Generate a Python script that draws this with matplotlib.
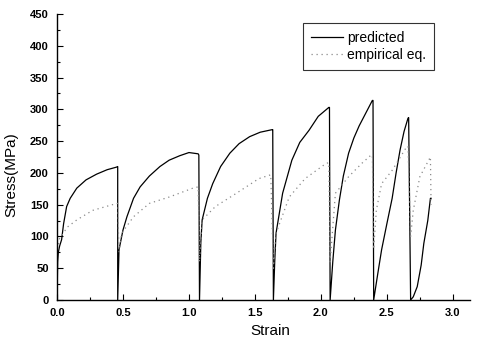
import matplotlib
matplotlib.use("Agg")
import matplotlib.pyplot as plt
from matplotlib.ticker import MultipleLocator

# predicted (solid) - loading segments with unloading drops
pred_strain = [0.0, 0.005, 0.01, 0.02, 0.035, 0.05, 0.073, 0.1, 0.15, 0.22, 0.3, 0.38, 0.45, 0.46,
               0.46, 0.47, 0.5, 0.53, 0.58, 0.63, 0.7, 0.78, 0.85, 0.93, 1.0, 1.07, 1.075,
               1.08, 1.09, 1.10, 1.14, 1.18, 1.24, 1.31, 1.38, 1.46, 1.54, 1.63, 1.635,
               1.64, 1.65, 1.66, 1.71, 1.78, 1.84, 1.91, 1.98, 2.06, 2.065,
               2.07, 2.09, 2.11, 2.14, 2.17, 2.21, 2.25, 2.29, 2.35, 2.39, 2.395,
               2.40, 2.43, 2.46, 2.50, 2.54, 2.57, 2.60, 2.63, 2.66, 2.665,
               2.68, 2.70, 2.73, 2.76, 2.78, 2.81, 2.83, 2.835]
pred_stress = [0, 60, 75, 85, 95, 120, 147, 160, 176, 189, 198, 205, 209, 210,
               0, 79, 110, 131, 160, 178, 195, 210, 220, 227, 232, 230, 228,
               0, 90, 126, 160, 183, 210, 231, 246, 257, 264, 268, 268,
               0, 60, 105, 168, 220, 248, 267, 289, 303, 303,
               0, 60, 110, 157, 195, 231, 255, 274, 298, 314, 314,
               0, 40, 79, 120, 160, 200, 236, 265, 286, 287,
               0, 5, 21, 55, 89, 125, 160, 160]

# empirical equation (dotted)
emp_strain = [0.005, 0.02, 0.08, 0.15, 0.27, 0.42, 0.46,
              0.47, 0.49, 0.58, 0.7, 0.85, 1.03, 1.07,
              1.08, 1.10, 1.20, 1.36, 1.53, 1.62,
              1.64, 1.66, 1.76, 1.88, 2.04, 2.06,
              2.07, 2.11, 2.21, 2.31, 2.38, 2.39,
              2.40, 2.42, 2.46, 2.54, 2.65, 2.66,
              2.68, 2.70, 2.75, 2.83, 2.835]
emp_stress = [80, 97, 115, 126, 141, 150, 152,
              75, 105, 131, 152, 162, 176, 178,
              60, 126, 147, 168, 191, 197,
              50, 105, 162, 191, 215, 216,
              60, 168, 194, 215, 228, 228,
              80, 141, 183, 204, 241, 242,
              100, 141, 194, 225, 150]

x_ticks = [0.0, 0.5, 1.0, 1.5, 2.0, 2.5, 3.0]
y_ticks = [0, 50, 100, 150, 200, 250, 300, 350, 400, 450]

plt.rcParams['font.family'] = ['Liberation Sans', 'DejaVu Sans']

fig = plt.figure(figsize=(4.82, 3.42), dpi=100)
ax = fig.add_axes([57/482, 1 - 300/342, (470 - 57)/482, (300 - 14)/342])

ax.plot(pred_strain, pred_stress, color='black', lw=0.9, label='predicted')
ax.plot(emp_strain, emp_stress, color='#8a8a8a', lw=0.9, linestyle=(0, (1, 3)), label='empirical eq.')

ax.set_xlim(0, 3.13)
ax.set_ylim(0, 450)
ax.set_xticks(x_ticks)
ax.set_xticklabels([f"{v:.1f}" for v in x_ticks])
ax.set_yticks(y_ticks)
ax.xaxis.set_minor_locator(MultipleLocator(0.25))
ax.yaxis.set_minor_locator(MultipleLocator(25))
ax.tick_params(which='both', direction='in', labelsize=8, width=0.8)
ax.tick_params(which='major', length=4)
ax.tick_params(which='minor', length=2)
ax.tick_params(axis='x', which='major', pad=6)
ax.tick_params(axis='y', which='major', pad=6)
for lab in ax.get_xticklabels() + ax.get_yticklabels():
    lab.set_fontweight('bold')

ax.spines['top'].set_visible(False)
ax.spines['right'].set_visible(False)
ax.spines['left'].set_linewidth(1.0)
ax.spines['bottom'].set_linewidth(1.0)

ax.set_xlabel('Strain', fontsize=11)
ax.set_ylabel('Stress(MPa)', fontsize=11)
ax.xaxis.set_label_coords(0.516, -0.085)
ax.yaxis.set_label_coords(-0.094, 0.437)

leg = ax.legend(loc='upper left', bbox_to_anchor=(0.596, 0.969), borderaxespad=0,
                fontsize=10, frameon=True, fancybox=False, edgecolor='black',
                handlelength=2.3, handletextpad=0.3, borderpad=0.55, labelspacing=0.25)
leg.get_frame().set_linewidth(0.8)

fig.savefig('out.png', dpi=100)
